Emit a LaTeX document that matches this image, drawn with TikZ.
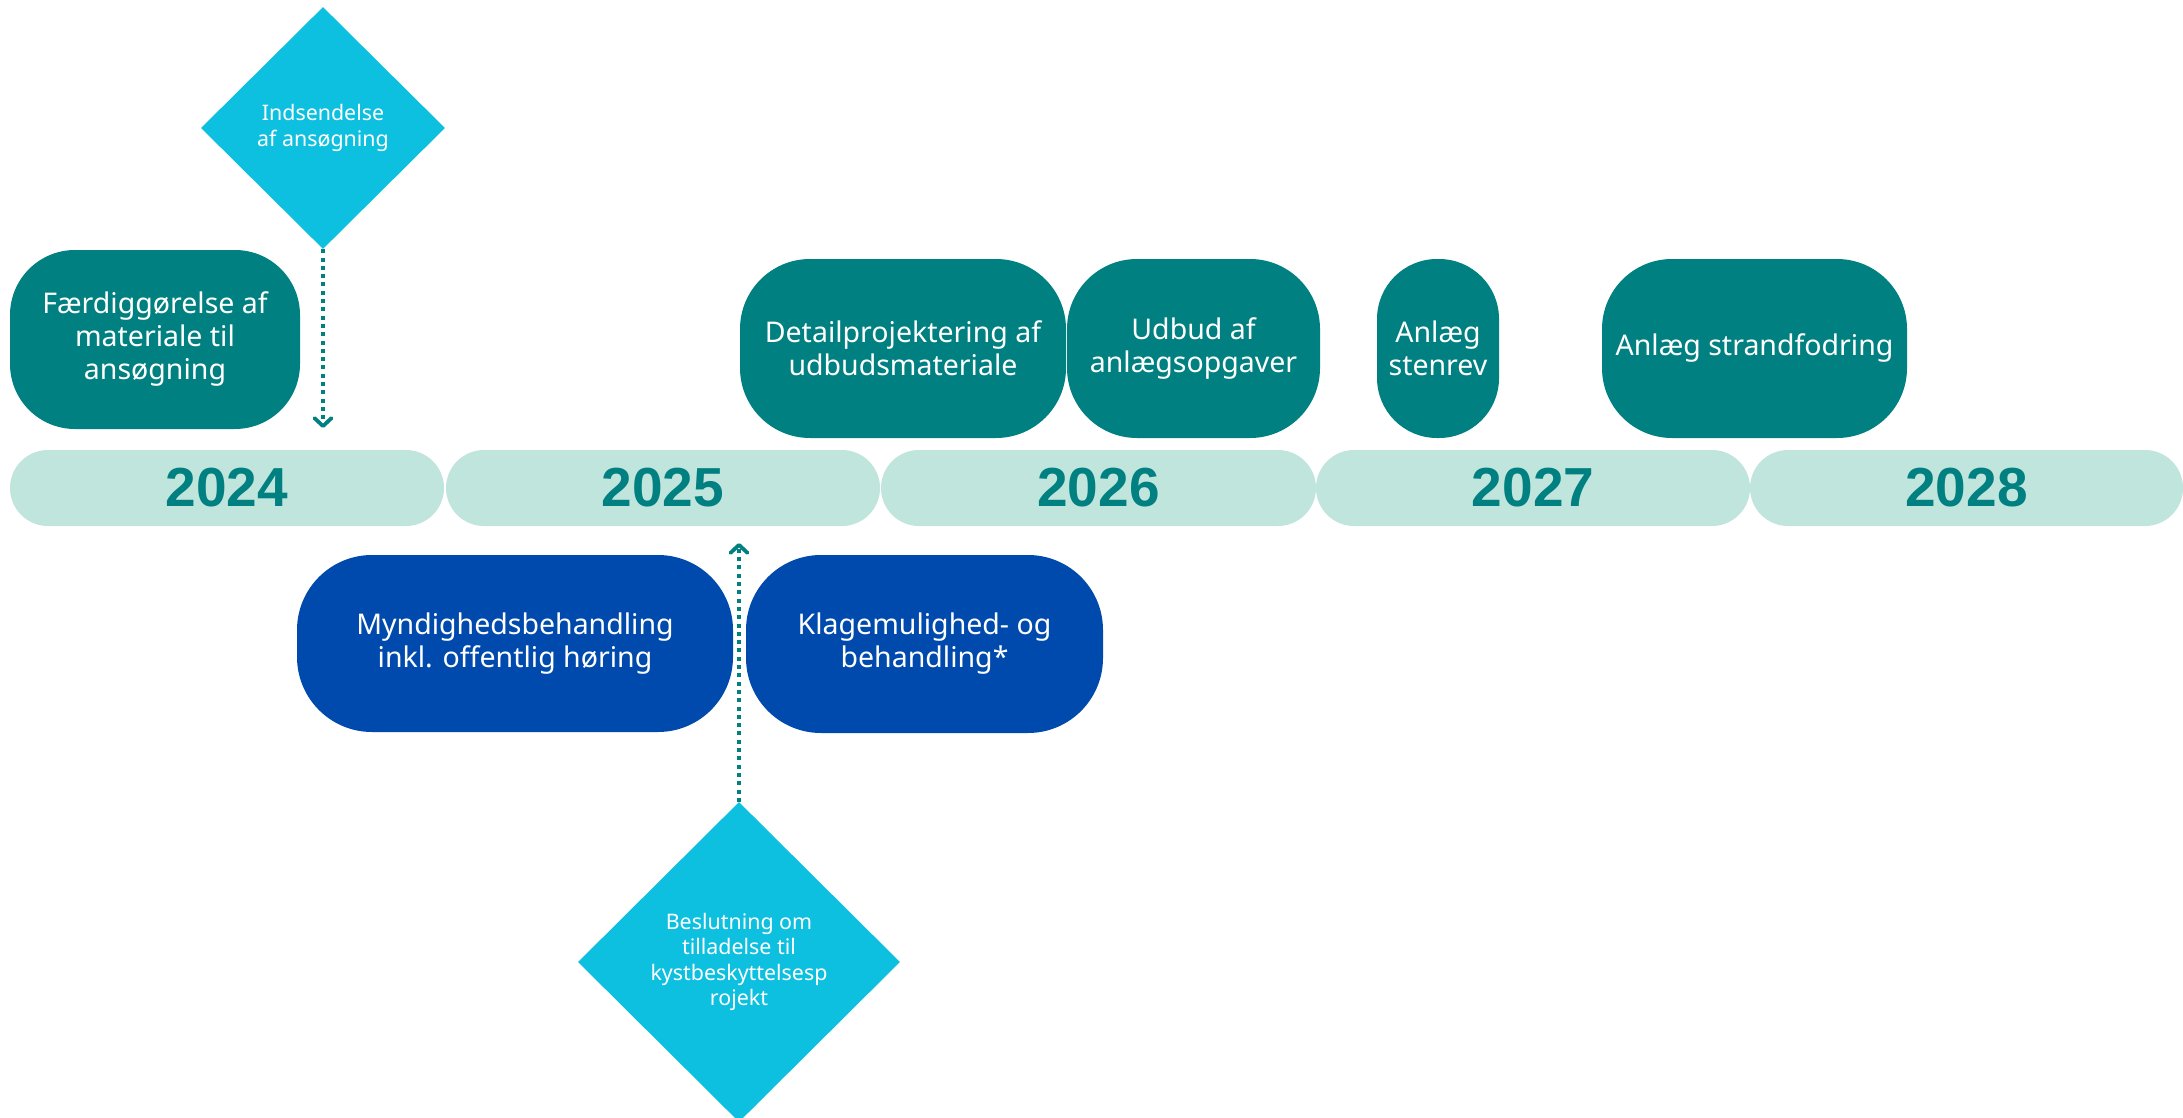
\documentclass[tikz,border=0pt]{standalone}
\usepackage{fontspec}
\setmainfont{Noto Sans}
\newfontfamily\yearfont{Liberation Sans}
\usetikzlibrary{shapes.geometric,arrows.meta}
\definecolor{teal0}{RGB}{0,128,128}
\definecolor{mint}{RGB}{191,229,220}
\definecolor{royal}{RGB}{0,74,173}
\definecolor{cyanD}{RGB}{14,192,224}
\begin{document}
\begin{tikzpicture}[x=1pt,y=-1pt,
  yearbar/.style={fill=mint, rounded corners=38pt, minimum height=76pt, inner sep=0pt, text=teal0, font=\yearfont\bfseries\fontsize{55}{60}\selectfont},
  taskbox/.style={fill=teal0, text=white, rounded corners=70pt, inner sep=0pt, align=center, minimum height=179pt, font=\fontsize{28.5}{33}\selectfont},
  authbox/.style={taskbox, fill=royal, rounded corners=75pt, minimum height=177pt},
  milestone/.style={shape=diamond, fill=cyanD, text=white, inner sep=0pt, align=center, font=\fontsize{21.4}{25.5}\selectfont},
  dotarrow/.style={draw=teal0, line width=4pt, dash pattern=on 4pt off 4.3pt, -{Straight Barb[length=8pt,width=17pt,line width=3.8pt,round]}}
]
\useasboundingbox (0,0) rectangle (2183,1118);

% year bars
\node[yearbar, minimum width=434pt] (y2024) at (227,488) {2024};
\node[yearbar, minimum width=434pt] (y2025) at (663,488) {2025};
\node[yearbar, minimum width=435pt] (y2026) at (1098.5,488) {2026};
\node[yearbar, minimum width=434pt] (y2027) at (1533,488) {2027};
\node[yearbar, minimum width=433pt] (y2028) at (1966.5,488) {2028};

% task boxes above
\node[taskbox, minimum width=290pt, rounded corners=65pt] (faerdig) at (155,339.5) {Færdiggørelse af\\materiale til\\ansøgning};
\node[taskbox, minimum width=326pt] (detail) at (903,348.5) {Detailprojektering af\\udbudsmateriale};
\node[taskbox, minimum width=253pt] (udbud) at (1193.5,348.5) {Udbud af\\anlægsopgaver};
\node[taskbox, minimum width=122pt, rounded corners=60pt] (stenrev) at (1438,348.5) {Anlæg\\stenrev};
\node[taskbox, minimum width=305pt] (strand) at (1754.5,348.5) {Anlæg strandfodring};

% authority boxes below
\node[authbox, minimum width=436pt] (myndig) at (515,643.5) {Myndighedsbehandling\\inkl. offentlig høring};
\node[authbox, minimum width=357pt, minimum height=178pt] (klage) at (924.5,644) {Klagemulighed- og\\behandling*};

% milestones
\node[milestone, minimum width=244pt, minimum height=242pt] (indsend) at (323,128) {Indsendelse\\af ansøgning};
\node[milestone, minimum width=322pt, minimum height=320pt] (beslut) at (739,962) {Beslutning om\\tilladelse til\\kystbeskyttelsesp\\rojekt};

% connectors
\coordinate (a1end) at (323,428);
\coordinate (a2end) at (739,543);
\draw[dotarrow] (indsend.south) -- (a1end);
\draw[dotarrow] (beslut.north) -- (a2end);
\end{tikzpicture}
\end{document}
